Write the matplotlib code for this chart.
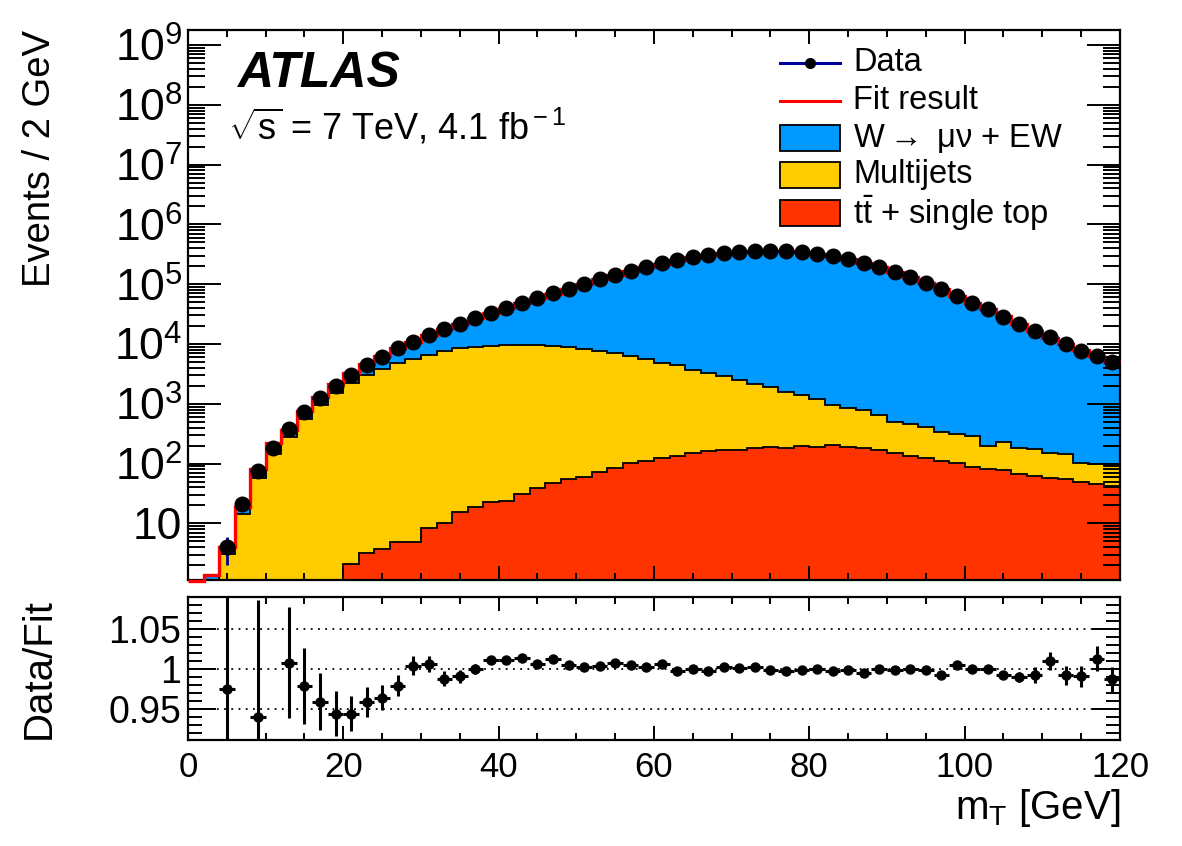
import numpy as np
import matplotlib
matplotlib.use("Agg")
import matplotlib.pyplot as plt
from matplotlib.ticker import FixedLocator, MultipleLocator, LogLocator, NullFormatter, FixedFormatter
from matplotlib.patches import Rectangle
from matplotlib.lines import Line2D

plt.rcParams['font.family'] = ['Liberation Sans', 'DejaVu Sans']
plt.rcParams['mathtext.fontset'] = 'custom'
plt.rcParams['mathtext.rm'] = 'Liberation Sans'
plt.rcParams['mathtext.it'] = 'Liberation Sans:italic'
plt.rcParams['mathtext.bf'] = 'Liberation Sans:bold'

# ---------------- data (2 GeV bins from 0 to 120 GeV) ----------------
bin_edges = np.arange(0, 122, 2)
bin_centers = 0.5 * (bin_edges[:-1] + bin_edges[1:])

data_counts = [np.nan, np.nan, 4, 21, 75, 180, 372, 738, 1260, 1990,
               3030, 4440, 6140, 8470, 10900, 13960, 17600, 21600, 26900, 33000,
               40000, 48500, 58000, 70400, 84000, 100700, 120800, 142600, 168000, 196000,
               223000, 254000, 285000, 308000, 332000, 350000, 359000, 359000, 355000, 341000,
               320000, 292000, 260000, 229000, 193000, 158000, 130000, 106000, 82000, 64500,
               49000, 38000, 28600, 21600, 16600, 12900, 9890, 7760, 6310, 4940]

fit_total = [1.1, 1.37, 4.1, 19, 80, 218, 369, 754, 1314, 2108,
             3210, 4630, 6370, 8650, 10860, 13880, 17810, 21800, 26900, 32640,
             39560, 47830, 57650, 69500, 83580, 100500, 120300, 141500, 167200, 195400,
             221700, 254800, 285000, 308900, 331000, 349700, 357900, 359400, 356100, 341300,
             320000, 292900, 260300, 230200, 193000, 158200, 130000, 106100, 82660, 64180,
             49000, 38000, 28830, 21820, 16720, 12770, 9970, 7830, 6230, 5005]

multijets = [0, 0, 3.1, 14.4, 58, 145, 275, 550, 955, 1500,
             2198, 3027, 3846, 4775, 5545, 6541, 7570, 8485, 8980, 9377,
             9596, 9668, 9561, 9223, 8744, 8240, 7650, 6915, 6207, 5511,
             4754, 4265, 3518, 3148, 2754, 2330, 1960, 1699, 1388, 1200,
             1030, 748, 652, 607, 478, 352, 319, 292, 231, 205,
             201, 120, 153, 117, 112, 94, 87, 54, 52, 51]

top_bkg = [0, 0, 0, 0, 0, 0, 0, 0, 0, 0,
           2.07, 3.16, 3.73, 4.9, 4.9, 8.5, 10.3, 15.5, 18.5, 22.8,
           24, 31.6, 39, 46.7, 56, 60, 71, 85, 103, 109,
           126, 135, 152, 162, 166, 170, 180, 191, 182, 200,
           190, 207, 188, 180, 172, 148, 135, 122, 111, 104,
           89, 80, 77, 68, 63, 58, 56, 49, 46, 42]

ratio_vals = [np.nan, np.nan, 0.975, np.nan, 0.940, np.nan, 1.008, 0.979, 0.959, 0.944,
              0.944, 0.959, 0.964, 0.979, 1.004, 1.006, 0.988, 0.991, 1.000, 1.011,
              1.011, 1.014, 1.006, 1.013, 1.005, 1.002, 1.004, 1.008, 1.005, 1.003,
              1.006, 0.997, 1.000, 0.997, 1.003, 1.001, 1.003, 0.999, 0.997, 0.999,
              1.000, 0.997, 0.999, 0.995, 1.000, 0.999, 1.000, 0.999, 0.992, 1.005,
              1.000, 1.000, 0.992, 0.990, 0.993, 1.010, 0.992, 0.991, 1.013, 0.987]

ratio_errs = [0, 0, 0.30, 0, 0.147, 0, 0.070, 0.048, 0.036, 0.028,
              0.022, 0.019, 0.016, 0.013, 0.012, 0.010, 0.009, 0.008, 0.006, 0.005,
              0.005, 0.004, 0.004, 0.004, 0.003, 0.003, 0.003, 0.003, 0.003, 0.003,
              0.003, 0.003, 0.003, 0.003, 0.003, 0.003, 0.003, 0.003, 0.003, 0.003,
              0.003, 0.003, 0.003, 0.003, 0.003, 0.003, 0.003, 0.003, 0.003, 0.004,
              0.004, 0.005, 0.005, 0.006, 0.010, 0.011, 0.012, 0.013, 0.016, 0.016]

main_ytick_vals = [10, 1e2, 1e3, 1e4, 1e5, 1e6, 1e7, 1e8, 1e9]
main_ytick_labels = ['10', r'$10^{2}$', r'$10^{3}$', r'$10^{4}$', r'$10^{5}$',
                     r'$10^{6}$', r'$10^{7}$', r'$10^{8}$', r'$10^{9}$']
ratio_ytick_vals = [0.95, 1.0, 1.05]
ratio_ytick_labels = ['0.95', '1', '1.05']
xtick_vals = [0, 20, 40, 60, 80, 100, 120]

# ---------------- colours ----------------
c_w = '#0099ff'
c_mj = '#ffcc00'
c_top = '#ff3300'
c_fit = '#ff0000'
c_data_err = '#000099'

data_counts = np.array(data_counts, dtype=float)
fit_total = np.array(fit_total, dtype=float)
multijets = np.array(multijets, dtype=float)
top_bkg = np.array(top_bkg, dtype=float)
ratio_vals = np.array(ratio_vals, dtype=float)
ratio_errs = np.array(ratio_errs, dtype=float)

floor = 0.3
lvl_top = np.clip(top_bkg, floor, None)
lvl_mj = np.clip(top_bkg + multijets, floor, None)
lvl_all = np.clip(fit_total, floor, None)   # W + EW stacked on top

# ---------------- figure ----------------
fig = plt.figure(figsize=(11.82, 8.46), dpi=100)
ax = fig.add_axes([0.15905, 0.31442, 0.78849, 0.65012])
axr = fig.add_axes([0.15905, 0.12530, 0.78849, 0.16903])

# stacked histograms
for lvl, col in [(lvl_all, c_w), (lvl_mj, c_mj), (lvl_top, c_top)]:
    ax.stairs(lvl, bin_edges, baseline=0.1, fill=True, color=col, zorder=1)
for lvl in [lvl_all, lvl_mj, lvl_top]:
    ax.stairs(lvl, bin_edges, baseline=None, color='black', lw=1.3, zorder=2)

# fit result
ax.stairs(fit_total, bin_edges, baseline=None, color=c_fit, lw=2.4, zorder=3, clip_on=False)

# data
ax.errorbar(bin_centers, data_counts, yerr=np.sqrt(np.nan_to_num(data_counts)),
            xerr=1.0, fmt='none', ecolor=c_data_err, elinewidth=2.0, capsize=0, zorder=4)
ax.plot(bin_centers, data_counts, 'o', color='black', ms=10.5, zorder=5, ls='none')

ax.set_yscale('log')
ax.set_xlim(0, 120)
ax.set_ylim(1.131, 1.78e9)

ax.yaxis.set_major_locator(FixedLocator(main_ytick_vals))
ax.yaxis.set_major_formatter(FixedFormatter(main_ytick_labels))
ax.yaxis.set_minor_locator(LogLocator(base=10, subs=np.arange(2, 10), numticks=30))
ax.yaxis.set_minor_formatter(NullFormatter())
ax.xaxis.set_major_locator(FixedLocator(xtick_vals))
ax.xaxis.set_minor_locator(MultipleLocator(5))

ax.tick_params(axis='both', which='both', direction='in', top=True, right=True, width=1.4)
ax.tick_params(axis='y', which='major', length=24, labelsize=32, pad=4)
ax.tick_params(axis='y', which='minor', length=12)
ax.tick_params(axis='x', which='major', length=10, labelbottom=False)
ax.tick_params(axis='x', which='minor', length=5)
for s in ax.spines.values():
    s.set_linewidth(1.6)

ax.set_ylabel('Events / 2 GeV', fontsize=27.5, loc='top')
ax.yaxis.set_label_coords(-0.1395, 1.0)

# ATLAS label
ax.text(0.0526, 0.896, 'ATLAS', transform=ax.transAxes, fontsize=36,
        fontweight='bold', fontstyle='italic', ha='left', va='baseline')
ax.text(0.043, 0.80, r'$\sqrt{\rm s}$ = 7 TeV, 4.1 fb$^{\rm -1}$', transform=ax.transAxes,
        fontsize=26, ha='left', va='baseline')

# legend (manual, ROOT style)
leg_x0, leg_x1, leg_tx = 0.635, 0.6996, 0.7135
leg_fs = 23.5
box_h = 0.047
rows = [0.940, 0.871, 0.8036, 0.7364, 0.667]
ax.add_line(Line2D([leg_x0, leg_x1], [rows[0], rows[0]], transform=ax.transAxes,
                   color=c_data_err, lw=2.2, zorder=10))
ax.plot([0.5 * (leg_x0 + leg_x1)], [rows[0]], 'o', color='black', ms=7,
        transform=ax.transAxes, zorder=11)
ax.add_line(Line2D([leg_x0, leg_x1], [rows[1], rows[1]], transform=ax.transAxes,
                   color=c_fit, lw=2.2, zorder=10))
for r, col in zip(rows[2:], [c_w, c_mj, c_top]):
    ax.add_patch(Rectangle((leg_x0, r - box_h / 2), leg_x1 - leg_x0, box_h,
                           transform=ax.transAxes, facecolor=col, edgecolor='black',
                           lw=1.3, zorder=10))
leg_labels = ['Data', 'Fit result', 'W$\\rightarrow$ \u03bc\u03bd + EW', 'Multijets',
              r't$\bar{\rm t}$ + single top']
for r, lab in zip(rows, leg_labels):
    ax.text(leg_tx, r, lab, transform=ax.transAxes, fontsize=leg_fs,
            ha='left', va='center', zorder=12)

# ---------------- ratio panel ----------------
for g in ratio_ytick_vals:
    axr.axhline(g, color='black', lw=1.3, ls=(0, (1, 3)), zorder=1)
axr.errorbar(bin_centers, ratio_vals, yerr=ratio_errs, xerr=1.0, fmt='o',
             color='black', ms=6.5, elinewidth=2.2, capsize=0, zorder=3)
axr.set_xlim(0, 120)
axr.set_ylim(0.9108, 1.0905)
axr.yaxis.set_major_locator(FixedLocator(ratio_ytick_vals))
axr.yaxis.set_major_formatter(FixedFormatter(ratio_ytick_labels))
axr.yaxis.set_minor_locator(MultipleLocator(0.01))
axr.xaxis.set_major_locator(FixedLocator(xtick_vals))
axr.xaxis.set_minor_locator(MultipleLocator(5))
axr.tick_params(axis='both', which='both', direction='in', top=True, right=True, width=1.4)
axr.tick_params(axis='y', which='major', length=20, labelsize=27, pad=5)
axr.tick_params(axis='y', which='minor', length=10)
axr.tick_params(axis='x', which='major', length=10, labelsize=25, pad=8)
axr.tick_params(axis='x', which='minor', length=5)
for s in axr.spines.values():
    s.set_linewidth(1.6)

axr.set_ylabel('Data/Fit', fontsize=29)
axr.yaxis.set_label_coords(-0.1395, 0.5)
axr.set_xlabel(r'm$_{\rm T}$ [GeV]', fontsize=29, loc='right')
axr.xaxis.set_label_coords(1.0, -0.33)

fig.savefig('out.png', dpi=100)
